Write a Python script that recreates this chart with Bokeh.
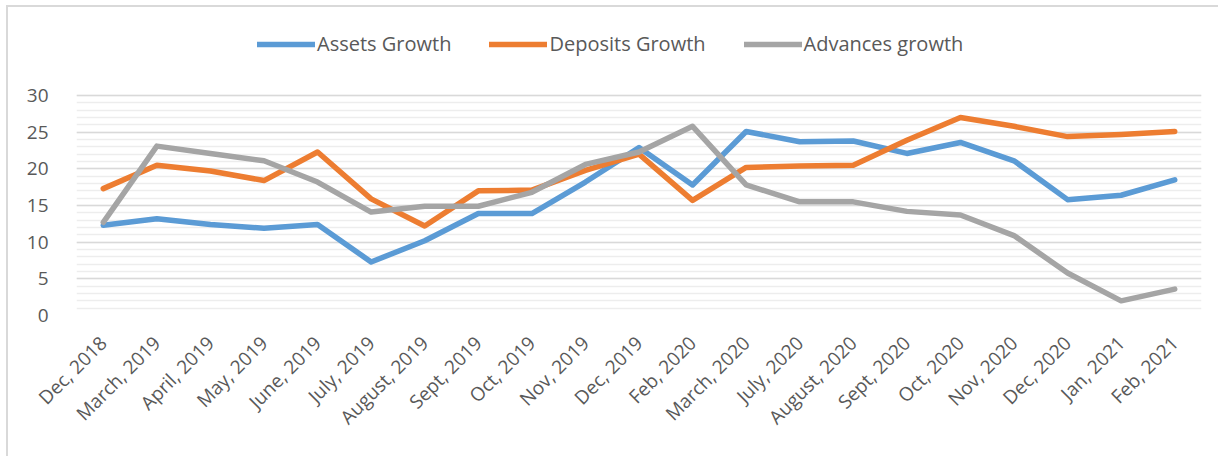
import math
from bokeh.plotting import figure
from bokeh.models import Legend, LegendItem, SingleIntervalTicker, FactorRange, Range1d
from bokeh.embed import file_html
from bokeh.resources import INLINE

categories = ["Dec, 2018", "March, 2019", "April, 2019", "May, 2019", "June, 2019",
              "July, 2019", "August, 2019", "Sept, 2019", "Oct, 2019", "Nov, 2019",
              "Dec, 2019", "Feb, 2020", "March, 2020", "July, 2020", "August, 2020",
              "Sept, 2020", "Oct, 2020", "Nov, 2020", "Dec, 2020", "Jan, 2021", "Feb, 2021"]

assets_growth = [12.3, 13.2, 12.4, 11.9, 12.4, 7.3, 10.2, 13.9, 13.9, 18.2,
                 22.9, 17.8, 25.1, 23.7, 23.8, 22.1, 23.6, 21.1, 15.8, 16.4, 18.5]
deposits_growth = [17.3, 20.5, 19.7, 18.4, 22.3, 15.9, 12.2, 17.0, 17.1, 19.8,
                   22.0, 15.7, 20.2, 20.4, 20.5, 23.9, 27.0, 25.8, 24.4, 24.7, 25.1]
advances_growth = [12.7, 23.1, 22.1, 21.1, 18.2, 14.1, 14.9, 14.9, 16.8, 20.6,
                   22.3, 25.8, 17.8, 15.5, 15.5, 14.2, 13.7, 10.9, 5.8, 2.0, 3.6]

series_names = ["Assets Growth", "Deposits Growth", "Advances growth"]
colors = ["#5B9BD5", "#ED7D31", "#A5A5A5"]
y_min, y_max, y_top_space = 0, 30, 40.23
text_color = "#595959"
font = "Open Sans"

p = figure(width=1212, height=451, x_range=FactorRange(*categories),
           y_range=Range1d(y_min, y_top_space),
           output_backend="svg", toolbar_location=None,
           min_border_left=68, min_border_right=19, min_border_top=13, min_border_bottom=143)
p.outline_line_color = None
p.background_fill_color = "white"
p.border_fill_color = "white"

renderers = []
for vals, c in zip([assets_growth, deposits_growth, advances_growth], colors):
    r = p.line(categories, vals, line_color=c, line_width=5.5, line_cap="round", line_join="round")
    renderers.append(r)

# axes
p.yaxis.ticker = SingleIntervalTicker(interval=5, num_minor_ticks=5)
p.yaxis.bounds = (y_min, y_max)
p.yaxis.axis_line_color = None
p.yaxis.major_tick_line_color = None
p.yaxis.minor_tick_line_color = None
p.yaxis.major_label_text_font = font
p.yaxis.major_label_text_font_size = "19px"
p.yaxis.major_label_text_color = text_color
p.yaxis.major_label_standoff = 22

p.xaxis.axis_line_color = None
p.xaxis.major_tick_line_color = None
p.xaxis.minor_tick_line_color = None
p.xaxis.major_label_orientation = math.pi / 4
p.xaxis.major_label_text_font = font
p.xaxis.major_label_text_font_size = "19px"
p.xaxis.major_label_text_color = text_color
p.xaxis.major_label_standoff = 18

p.xgrid.grid_line_color = None
p.ygrid.bounds = (y_min, y_max)
p.ygrid.grid_line_color = "#D9D9D9"
p.ygrid.grid_line_width = 1.5
p.ygrid.minor_grid_line_color = "#EDEDED"
p.ygrid.minor_grid_line_width = 1.5

legend = Legend(items=[LegendItem(label=n, renderers=[r]) for n, r in zip(series_names, renderers)],
                orientation="horizontal", location=(181, 258),
                label_text_font=font, label_text_font_size="20px", label_text_color=text_color,
                label_height=20, label_text_baseline="middle",
                glyph_width=58, glyph_height=20, label_standoff=2, spacing=38,
                border_line_color=None, background_fill_alpha=0, padding=0, margin=0)
p.add_layout(legend, "center")

p.styles = {"margin-left": "6px", "margin-top": "5px",
            "border-left": "2px solid #D9D9D9", "border-top": "2px solid #D9D9D9"}

open("out.html", "w").write(file_html(p, INLINE))
